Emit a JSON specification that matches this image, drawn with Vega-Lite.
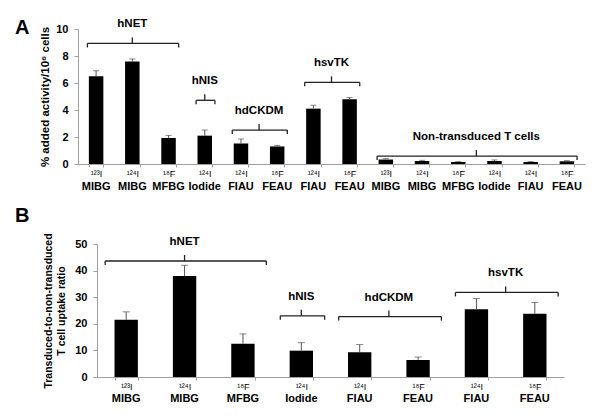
{
  "$schema": "https://vega.github.io/schema/vega-lite/v6.json",
  "padding": {"left": 14, "top": 18, "right": 5, "bottom": 1},
  "spacing": 14,
  "config": {
    "font": "Liberation Sans",
    "view": {"stroke": null},
    "axis": {"labelColor": "#000", "labelFontWeight": "bold", "titleColor": "#000", "titleFontWeight": "bold", "domainColor": "#a0a0a0", "tickColor": "#a0a0a0", "grid": false, "labelFont": "Liberation Sans", "titleFont": "Liberation Sans"},
    "title": {"color": "#000", "font": "Liberation Sans"}
  },
  "datasets": {
    "barsA": [
      {"key": "¹²³I|MIBG|hNET", "value": 6.5, "err": 6.9},
      {"key": "¹²⁴I|MIBG|hNET", "value": 7.6, "err": 7.78},
      {"key": "¹⁸F|MFBG|hNET", "value": 1.93, "err": 2.12},
      {"key": "¹²⁴I|Iodide|hNIS", "value": 2.1, "err": 2.52},
      {"key": "¹²⁴I|FIAU|hdCKDM", "value": 1.52, "err": 1.85},
      {"key": "¹⁸F|FEAU|hdCKDM", "value": 1.3, "err": 1.38},
      {"key": "¹²⁴I|FIAU|hsvTK", "value": 4.1, "err": 4.35},
      {"key": "¹⁸F|FEAU|hsvTK", "value": 4.8, "err": 4.92},
      {"key": "¹²³I|MIBG|NT", "value": 0.33, "err": 0.4},
      {"key": "¹²⁴I|MIBG|NT", "value": 0.22, "err": 0.27},
      {"key": "¹⁸F|MFBG|NT", "value": 0.15, "err": 0.18},
      {"key": "¹²⁴I|Iodide|NT", "value": 0.22, "err": 0.3},
      {"key": "¹²⁴I|FIAU|NT", "value": 0.15, "err": 0.18},
      {"key": "¹⁸F|FEAU|NT", "value": 0.2, "err": 0.25}
    ],
    "brA": [
      {"label": "hNET", "start": "¹²³I|MIBG|hNET", "end": "¹⁸F|MFBG|hNET", "mid": "¹²⁴I|MIBG|hNET", "by": 8.93, "parity": "odd"},
      {"label": "hNIS", "start": "¹²⁴I|Iodide|hNIS", "end": "¹²⁴I|Iodide|hNIS", "mid": "¹²⁴I|Iodide|hNIS", "by": 4.72, "parity": "odd"},
      {"label": "hdCKDM", "start": "¹²⁴I|FIAU|hdCKDM", "end": "¹⁸F|FEAU|hdCKDM", "mid": "¹²⁴I|FIAU|hdCKDM", "by": 2.51, "parity": "even"},
      {"label": "hsvTK", "start": "¹²⁴I|FIAU|hsvTK", "end": "¹⁸F|FEAU|hsvTK", "mid": "¹²⁴I|FIAU|hsvTK", "by": 6.05, "parity": "even"},
      {"label": "Non-transduced T cells", "start": "¹²³I|MIBG|NT", "end": "¹⁸F|FEAU|NT", "mid": "¹⁸F|MFBG|NT", "by": 0.59, "parity": "even"}
    ],
    "barsB": [
      {"key": "¹²³I|MIBG|hNET", "value": 21.5, "err": 24.5},
      {"key": "¹²⁴I|MIBG|hNET", "value": 38, "err": 42},
      {"key": "¹⁸F|MFBG|hNET", "value": 12.5, "err": 16.2},
      {"key": "¹²⁴I|Iodide|hNIS", "value": 9.9, "err": 12.9},
      {"key": "¹²⁴I|FIAU|hdCKDM", "value": 9.3, "err": 12.2},
      {"key": "¹⁸F|FEAU|hdCKDM", "value": 6.4, "err": 7.5},
      {"key": "¹²⁴I|FIAU|hsvTK", "value": 25.5, "err": 29.5},
      {"key": "¹⁸F|FEAU|hsvTK", "value": 23.8, "err": 28}
    ],
    "brB": [
      {"label": "hNET", "start": "¹²³I|MIBG|hNET", "end": "¹⁸F|MFBG|hNET", "mid": "¹²⁴I|MIBG|hNET", "by": 43.6, "parity": "odd"},
      {"label": "hNIS", "start": "¹²⁴I|Iodide|hNIS", "end": "¹²⁴I|Iodide|hNIS", "mid": "¹²⁴I|Iodide|hNIS", "by": 23.0, "parity": "odd"},
      {"label": "hdCKDM", "start": "¹²⁴I|FIAU|hdCKDM", "end": "¹⁸F|FEAU|hdCKDM", "mid": "¹²⁴I|FIAU|hdCKDM", "by": 22.7, "parity": "even"},
      {"label": "hsvTK", "start": "¹²⁴I|FIAU|hsvTK", "end": "¹⁸F|FEAU|hsvTK", "mid": "¹²⁴I|FIAU|hsvTK", "by": 31.8, "parity": "even"}
    ]
  },
  "vconcat": [
    {"hconcat": [
    {"data": {"values": []}, "mark": "point", "width": 1, "height": 1},
    {
      "width": 507,
      "height": 135,
      "title": {"text": "A", "anchor": "start", "frame": "group", "fontSize": 20, "fontWeight": "bold", "dx": -63, "offset": -20},
      "resolve": {"axis": {"x": "independent", "y": "independent"}},
      "layer": [
        {
          "data": {"name": "barsA"},
          "mark": {"type": "bar", "color": "#000"},
          "encoding": {
            "x": {"field": "key", "type": "nominal",
              "scale": {"domain": ["¹²³I|MIBG|hNET","¹²⁴I|MIBG|hNET","¹⁸F|MFBG|hNET","¹²⁴I|Iodide|hNIS","¹²⁴I|FIAU|hdCKDM","¹⁸F|FEAU|hdCKDM","¹²⁴I|FIAU|hsvTK","¹⁸F|FEAU|hsvTK","¹²³I|MIBG|NT","¹²⁴I|MIBG|NT","¹⁸F|MFBG|NT","¹²⁴I|Iodide|NT","¹²⁴I|FIAU|NT","¹⁸F|FEAU|NT"], "paddingInner": 0.6, "paddingOuter": 0.3},
              "axis": {"orient": "bottom", "title": null, "labelExpr": "split(datum.label, '|')[0]", "labelAngle": 0, "labelFontSize": 9, "labelFontWeight": "normal", "labelPadding": 2, "tickBand": "extent", "tickSize": 3}},
            "y": {"field": "value", "type": "quantitative", "scale": {"domain": [0, 10], "nice": false},
              "axis": {"orient": "left", "title": "% added activity/10⁶ cells", "values": [0, 2, 4, 6, 8, 10], "labelOverlap": false, "labelFontSize": 11, "titleFontSize": 11.5, "tickSize": 4, "labelPadding": 6, "titlePadding": 5}}
          }
        },
        {
          "data": {"name": "barsA"},
          "mark": {"type": "rule", "color": "#555", "strokeWidth": 1},
          "encoding": {
            "x": {"field": "key", "type": "nominal",
              "scale": {"domain": ["¹²³I|MIBG|hNET","¹²⁴I|MIBG|hNET","¹⁸F|MFBG|hNET","¹²⁴I|Iodide|hNIS","¹²⁴I|FIAU|hdCKDM","¹⁸F|FEAU|hdCKDM","¹²⁴I|FIAU|hsvTK","¹⁸F|FEAU|hsvTK","¹²³I|MIBG|NT","¹²⁴I|MIBG|NT","¹⁸F|MFBG|NT","¹²⁴I|Iodide|NT","¹²⁴I|FIAU|NT","¹⁸F|FEAU|NT"]},
              "axis": {"orient": "bottom", "title": null, "labelExpr": "split(datum.label, '|')[1]", "labelAngle": 0, "labelFontSize": 11, "domain": false, "ticks": false, "labelPadding": 16}},
            "y": {"field": "value", "type": "quantitative", "axis": null},
            "y2": {"field": "err"}
          }
        },
        {
          "data": {"name": "barsA"},
          "mark": {"type": "tick", "color": "#555", "thickness": 1, "size": 6},
          "encoding": {
            "x": {"field": "key", "type": "nominal", "axis": null,
              "scale": {"domain": ["¹²³I|MIBG|hNET","¹²⁴I|MIBG|hNET","¹⁸F|MFBG|hNET","¹²⁴I|Iodide|hNIS","¹²⁴I|FIAU|hdCKDM","¹⁸F|FEAU|hdCKDM","¹²⁴I|FIAU|hsvTK","¹⁸F|FEAU|hsvTK","¹²³I|MIBG|NT","¹²⁴I|MIBG|NT","¹⁸F|MFBG|NT","¹²⁴I|Iodide|NT","¹²⁴I|FIAU|NT","¹⁸F|FEAU|NT"]}},
            "y": {"field": "err", "type": "quantitative", "axis": null}
          }
        },
        {
          "data": {"name": "brA"},
          "mark": {"type": "rule", "color": "#222", "strokeWidth": 1.3},
          "encoding": {
            "x": {"field": "start", "type": "nominal", "bandPosition": -0.1, "axis": null,
              "scale": {"domain": ["¹²³I|MIBG|hNET","¹²⁴I|MIBG|hNET","¹⁸F|MFBG|hNET","¹²⁴I|Iodide|hNIS","¹²⁴I|FIAU|hdCKDM","¹⁸F|FEAU|hdCKDM","¹²⁴I|FIAU|hsvTK","¹⁸F|FEAU|hsvTK","¹²³I|MIBG|NT","¹²⁴I|MIBG|NT","¹⁸F|MFBG|NT","¹²⁴I|Iodide|NT","¹²⁴I|FIAU|NT","¹⁸F|FEAU|NT"]}},
            "x2": {"field": "end", "bandPosition": 1.2},
            "y": {"field": "by", "type": "quantitative", "axis": null}
          }
        },
        {
          "data": {"name": "brA"},
          "mark": {"type": "rule", "color": "#222", "strokeWidth": 1.3, "y2Offset": 4},
          "encoding": {
            "x": {"field": "start", "type": "nominal", "bandPosition": -0.1, "axis": null,
              "scale": {"domain": ["¹²³I|MIBG|hNET","¹²⁴I|MIBG|hNET","¹⁸F|MFBG|hNET","¹²⁴I|Iodide|hNIS","¹²⁴I|FIAU|hdCKDM","¹⁸F|FEAU|hdCKDM","¹²⁴I|FIAU|hsvTK","¹⁸F|FEAU|hsvTK","¹²³I|MIBG|NT","¹²⁴I|MIBG|NT","¹⁸F|MFBG|NT","¹²⁴I|Iodide|NT","¹²⁴I|FIAU|NT","¹⁸F|FEAU|NT"]}},
            "y": {"field": "by", "type": "quantitative", "axis": null},
            "y2": {"field": "by"}
          }
        },
        {
          "data": {"name": "brA"},
          "mark": {"type": "rule", "color": "#222", "strokeWidth": 1.3, "y2Offset": 4},
          "encoding": {
            "x": {"field": "end", "type": "nominal", "bandPosition": 1.2, "axis": null,
              "scale": {"domain": ["¹²³I|MIBG|hNET","¹²⁴I|MIBG|hNET","¹⁸F|MFBG|hNET","¹²⁴I|Iodide|hNIS","¹²⁴I|FIAU|hdCKDM","¹⁸F|FEAU|hdCKDM","¹²⁴I|FIAU|hsvTK","¹⁸F|FEAU|hsvTK","¹²³I|MIBG|NT","¹²⁴I|MIBG|NT","¹⁸F|MFBG|NT","¹²⁴I|Iodide|NT","¹²⁴I|FIAU|NT","¹⁸F|FEAU|NT"]}},
            "y": {"field": "by", "type": "quantitative", "axis": null},
            "y2": {"field": "by"}
          }
        },
        {
          "data": {"name": "brA"},
          "transform": [{"filter": "datum.parity == 'odd'"}],
          "layer": [
            {
              "mark": {"type": "rule", "color": "#222", "strokeWidth": 1.3, "y2Offset": -6},
              "encoding": {
                "x": {"field": "mid", "type": "nominal", "bandPosition": 0.5, "axis": null,
                  "scale": {"domain": ["¹²³I|MIBG|hNET","¹²⁴I|MIBG|hNET","¹⁸F|MFBG|hNET","¹²⁴I|Iodide|hNIS","¹²⁴I|FIAU|hdCKDM","¹⁸F|FEAU|hdCKDM","¹²⁴I|FIAU|hsvTK","¹⁸F|FEAU|hsvTK","¹²³I|MIBG|NT","¹²⁴I|MIBG|NT","¹⁸F|MFBG|NT","¹²⁴I|Iodide|NT","¹²⁴I|FIAU|NT","¹⁸F|FEAU|NT"]}},
                "y": {"field": "by", "type": "quantitative", "axis": null},
                "y2": {"field": "by"}
              }
            },
            {
              "mark": {"type": "text", "fontSize": 11.5, "fontWeight": "bold", "color": "#000", "dy": -19, "baseline": "middle"},
              "encoding": {
                "x": {"field": "mid", "type": "nominal", "bandPosition": 0.5, "axis": null,
                  "scale": {"domain": ["¹²³I|MIBG|hNET","¹²⁴I|MIBG|hNET","¹⁸F|MFBG|hNET","¹²⁴I|Iodide|hNIS","¹²⁴I|FIAU|hdCKDM","¹⁸F|FEAU|hdCKDM","¹²⁴I|FIAU|hsvTK","¹⁸F|FEAU|hsvTK","¹²³I|MIBG|NT","¹²⁴I|MIBG|NT","¹⁸F|MFBG|NT","¹²⁴I|Iodide|NT","¹²⁴I|FIAU|NT","¹⁸F|FEAU|NT"]}},
                "y": {"field": "by", "type": "quantitative", "axis": null},
                "text": {"field": "label"}
              }
            }
          ]
        },
        {
          "data": {"name": "brA"},
          "transform": [{"filter": "datum.parity == 'even'"}],
          "layer": [
            {
              "mark": {"type": "rule", "color": "#222", "strokeWidth": 1.3, "y2Offset": -6},
              "encoding": {
                "x": {"field": "mid", "type": "nominal", "bandPosition": 1.75, "axis": null,
                  "scale": {"domain": ["¹²³I|MIBG|hNET","¹²⁴I|MIBG|hNET","¹⁸F|MFBG|hNET","¹²⁴I|Iodide|hNIS","¹²⁴I|FIAU|hdCKDM","¹⁸F|FEAU|hdCKDM","¹²⁴I|FIAU|hsvTK","¹⁸F|FEAU|hsvTK","¹²³I|MIBG|NT","¹²⁴I|MIBG|NT","¹⁸F|MFBG|NT","¹²⁴I|Iodide|NT","¹²⁴I|FIAU|NT","¹⁸F|FEAU|NT"]}},
                "y": {"field": "by", "type": "quantitative", "axis": null},
                "y2": {"field": "by"}
              }
            },
            {
              "mark": {"type": "text", "fontSize": 11.5, "fontWeight": "bold", "color": "#000", "dy": -19, "baseline": "middle"},
              "encoding": {
                "x": {"field": "mid", "type": "nominal", "bandPosition": 1.75, "axis": null,
                  "scale": {"domain": ["¹²³I|MIBG|hNET","¹²⁴I|MIBG|hNET","¹⁸F|MFBG|hNET","¹²⁴I|Iodide|hNIS","¹²⁴I|FIAU|hdCKDM","¹⁸F|FEAU|hdCKDM","¹²⁴I|FIAU|hsvTK","¹⁸F|FEAU|hsvTK","¹²³I|MIBG|NT","¹²⁴I|MIBG|NT","¹⁸F|MFBG|NT","¹²⁴I|Iodide|NT","¹²⁴I|FIAU|NT","¹⁸F|FEAU|NT"]}},
                "y": {"field": "by", "type": "quantitative", "axis": null},
                "text": {"field": "label"}
              }
            }
          ]
        }
      ]
    }
    ], "spacing": 0},
    {"hconcat": [
    {"data": {"values": []}, "mark": "point", "width": 1, "height": 1},
    {
      "width": 467,
      "height": 133,
      "title": {"text": "B", "anchor": "start", "frame": "group", "fontSize": 20, "fontWeight": "bold", "dx": -82, "offset": 7},
      "resolve": {"axis": {"x": "independent", "y": "independent"}},
      "layer": [
        {
          "data": {"name": "barsB"},
          "mark": {"type": "bar", "color": "#000"},
          "encoding": {
            "x": {"field": "key", "type": "nominal",
              "scale": {"domain": ["¹²³I|MIBG|hNET","¹²⁴I|MIBG|hNET","¹⁸F|MFBG|hNET","¹²⁴I|Iodide|hNIS","¹²⁴I|FIAU|hdCKDM","¹⁸F|FEAU|hdCKDM","¹²⁴I|FIAU|hsvTK","¹⁸F|FEAU|hsvTK"], "paddingInner": 0.6, "paddingOuter": 0.3},
              "axis": {"orient": "bottom", "title": null, "labelExpr": "split(datum.label, '|')[0]", "labelAngle": 0, "labelFontSize": 9, "labelFontWeight": "normal", "labelPadding": 2, "tickBand": "extent", "tickSize": 3}},
            "y": {"field": "value", "type": "quantitative", "scale": {"domain": [0, 50], "nice": false},
              "axis": {"orient": "left", "title": ["Transduced-to-non-transduced", "T cell uptake ratio"], "values": [0, 10, 20, 30, 40, 50], "labelOverlap": false, "labelFontSize": 11, "titleFontSize": 10.5, "titleLineHeight": 13, "tickSize": 4, "labelPadding": 6, "titlePadding": 8}}
          }
        },
        {
          "data": {"name": "barsB"},
          "mark": {"type": "rule", "color": "#555", "strokeWidth": 1},
          "encoding": {
            "x": {"field": "key", "type": "nominal",
              "scale": {"domain": ["¹²³I|MIBG|hNET","¹²⁴I|MIBG|hNET","¹⁸F|MFBG|hNET","¹²⁴I|Iodide|hNIS","¹²⁴I|FIAU|hdCKDM","¹⁸F|FEAU|hdCKDM","¹²⁴I|FIAU|hsvTK","¹⁸F|FEAU|hsvTK"]},
              "axis": {"orient": "bottom", "title": null, "labelExpr": "split(datum.label, '|')[1]", "labelAngle": 0, "labelFontSize": 11, "domain": false, "ticks": false, "labelPadding": 15}},
            "y": {"field": "value", "type": "quantitative", "axis": null},
            "y2": {"field": "err"}
          }
        },
        {
          "data": {"name": "barsB"},
          "mark": {"type": "tick", "color": "#555", "thickness": 1, "size": 7},
          "encoding": {
            "x": {"field": "key", "type": "nominal", "axis": null,
              "scale": {"domain": ["¹²³I|MIBG|hNET","¹²⁴I|MIBG|hNET","¹⁸F|MFBG|hNET","¹²⁴I|Iodide|hNIS","¹²⁴I|FIAU|hdCKDM","¹⁸F|FEAU|hdCKDM","¹²⁴I|FIAU|hsvTK","¹⁸F|FEAU|hsvTK"]}},
            "y": {"field": "err", "type": "quantitative", "axis": null}
          }
        },
        {
          "data": {"name": "brB"},
          "mark": {"type": "rule", "color": "#222", "strokeWidth": 1.3},
          "encoding": {
            "x": {"field": "start", "type": "nominal", "bandPosition": -0.4, "axis": null,
              "scale": {"domain": ["¹²³I|MIBG|hNET","¹²⁴I|MIBG|hNET","¹⁸F|MFBG|hNET","¹²⁴I|Iodide|hNIS","¹²⁴I|FIAU|hdCKDM","¹⁸F|FEAU|hdCKDM","¹²⁴I|FIAU|hsvTK","¹⁸F|FEAU|hsvTK"]}},
            "x2": {"field": "end", "bandPosition": 1.5},
            "y": {"field": "by", "type": "quantitative", "axis": null}
          }
        },
        {
          "data": {"name": "brB"},
          "mark": {"type": "rule", "color": "#222", "strokeWidth": 1.3, "y2Offset": 4},
          "encoding": {
            "x": {"field": "start", "type": "nominal", "bandPosition": -0.4, "axis": null,
              "scale": {"domain": ["¹²³I|MIBG|hNET","¹²⁴I|MIBG|hNET","¹⁸F|MFBG|hNET","¹²⁴I|Iodide|hNIS","¹²⁴I|FIAU|hdCKDM","¹⁸F|FEAU|hdCKDM","¹²⁴I|FIAU|hsvTK","¹⁸F|FEAU|hsvTK"]}},
            "y": {"field": "by", "type": "quantitative", "axis": null},
            "y2": {"field": "by"}
          }
        },
        {
          "data": {"name": "brB"},
          "mark": {"type": "rule", "color": "#222", "strokeWidth": 1.3, "y2Offset": 4},
          "encoding": {
            "x": {"field": "end", "type": "nominal", "bandPosition": 1.5, "axis": null,
              "scale": {"domain": ["¹²³I|MIBG|hNET","¹²⁴I|MIBG|hNET","¹⁸F|MFBG|hNET","¹²⁴I|Iodide|hNIS","¹²⁴I|FIAU|hdCKDM","¹⁸F|FEAU|hdCKDM","¹²⁴I|FIAU|hsvTK","¹⁸F|FEAU|hsvTK"]}},
            "y": {"field": "by", "type": "quantitative", "axis": null},
            "y2": {"field": "by"}
          }
        },
        {
          "data": {"name": "brB"},
          "transform": [{"filter": "datum.parity == 'odd'"}],
          "layer": [
            {
              "mark": {"type": "rule", "color": "#222", "strokeWidth": 1.3, "y2Offset": -6},
              "encoding": {
                "x": {"field": "mid", "type": "nominal", "bandPosition": 0.5, "axis": null,
                  "scale": {"domain": ["¹²³I|MIBG|hNET","¹²⁴I|MIBG|hNET","¹⁸F|MFBG|hNET","¹²⁴I|Iodide|hNIS","¹²⁴I|FIAU|hdCKDM","¹⁸F|FEAU|hdCKDM","¹²⁴I|FIAU|hsvTK","¹⁸F|FEAU|hsvTK"]}},
                "y": {"field": "by", "type": "quantitative", "axis": null},
                "y2": {"field": "by"}
              }
            },
            {
              "mark": {"type": "text", "fontSize": 11.5, "fontWeight": "bold", "color": "#000", "dy": -19, "baseline": "middle"},
              "encoding": {
                "x": {"field": "mid", "type": "nominal", "bandPosition": 0.5, "axis": null,
                  "scale": {"domain": ["¹²³I|MIBG|hNET","¹²⁴I|MIBG|hNET","¹⁸F|MFBG|hNET","¹²⁴I|Iodide|hNIS","¹²⁴I|FIAU|hdCKDM","¹⁸F|FEAU|hdCKDM","¹²⁴I|FIAU|hsvTK","¹⁸F|FEAU|hsvTK"]}},
                "y": {"field": "by", "type": "quantitative", "axis": null},
                "text": {"field": "label"}
              }
            }
          ]
        },
        {
          "data": {"name": "brB"},
          "transform": [{"filter": "datum.parity == 'even'"}],
          "layer": [
            {
              "mark": {"type": "rule", "color": "#222", "strokeWidth": 1.3, "y2Offset": -6},
              "encoding": {
                "x": {"field": "mid", "type": "nominal", "bandPosition": 1.75, "axis": null,
                  "scale": {"domain": ["¹²³I|MIBG|hNET","¹²⁴I|MIBG|hNET","¹⁸F|MFBG|hNET","¹²⁴I|Iodide|hNIS","¹²⁴I|FIAU|hdCKDM","¹⁸F|FEAU|hdCKDM","¹²⁴I|FIAU|hsvTK","¹⁸F|FEAU|hsvTK"]}},
                "y": {"field": "by", "type": "quantitative", "axis": null},
                "y2": {"field": "by"}
              }
            },
            {
              "mark": {"type": "text", "fontSize": 11.5, "fontWeight": "bold", "color": "#000", "dy": -19, "baseline": "middle"},
              "encoding": {
                "x": {"field": "mid", "type": "nominal", "bandPosition": 1.75, "axis": null,
                  "scale": {"domain": ["¹²³I|MIBG|hNET","¹²⁴I|MIBG|hNET","¹⁸F|MFBG|hNET","¹²⁴I|Iodide|hNIS","¹²⁴I|FIAU|hdCKDM","¹⁸F|FEAU|hdCKDM","¹²⁴I|FIAU|hsvTK","¹⁸F|FEAU|hsvTK"]}},
                "y": {"field": "by", "type": "quantitative", "axis": null},
                "text": {"field": "label"}
              }
            }
          ]
        }
      ]
    }
    ], "spacing": 0}
  ]
}
